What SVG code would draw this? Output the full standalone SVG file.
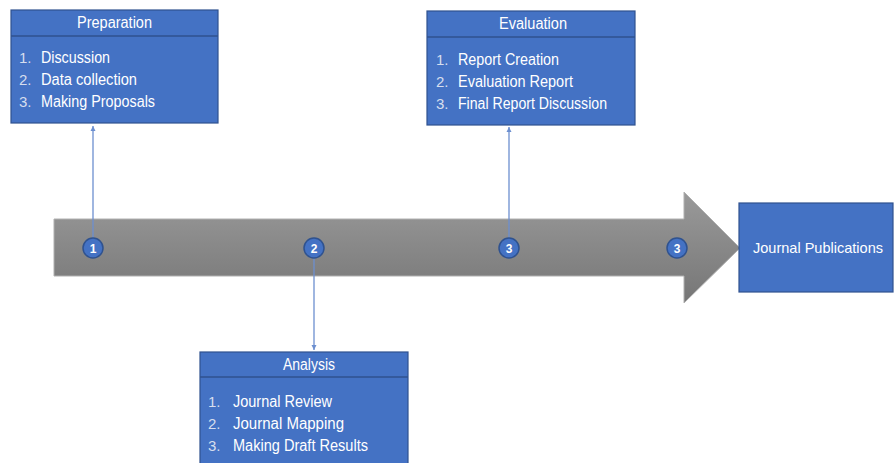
<svg xmlns="http://www.w3.org/2000/svg" width="894" height="463" viewBox="0 0 894 463">
<style>
.box{fill:#4472C4;stroke:#2F528F;stroke-width:1.2}
.sep{stroke:#2F528F;stroke-width:1.5}
text{font-family:"Liberation Sans",Arial,sans-serif;fill:#fff}
.hd{font-size:16px;text-anchor:middle}
.it{font-size:16px}
.num{font-size:15px;fill:#D6DEEE}
.circ{fill:#4472C4;stroke:#2F528F;stroke-width:1.5}
.cn{font-size:12px;font-weight:bold;text-anchor:middle}
.conn{stroke:#6C8FD0;stroke-width:1.3;fill:none}
</style>
<defs>
<linearGradient id="g" x1="0" y1="0" x2="0" y2="1">
<stop offset="0" stop-color="#9A9A9A"/>
<stop offset="1" stop-color="#767676"/>
</linearGradient>
<marker id="ah" markerWidth="6" markerHeight="6" refX="5" refY="3" orient="auto" markerUnits="userSpaceOnUse">
<path d="M0,0.5 L5,3 L0,5.5 Z" fill="#6C8FD0"/>
</marker>
</defs>
<g id="arrow">
<path d="M54,219 H684 V192 L740,248 L684,303 V276 H54 Z" fill="url(#g)" stroke="#B0B0B0" stroke-width="1"/>
</g>
<g id="connectors">
<line class="conn" x1="93" y1="238" x2="93" y2="126" marker-end="url(#ah)"/>
<line class="conn" x1="314" y1="258" x2="314" y2="350" marker-end="url(#ah)"/>
<line class="conn" x1="509" y1="238" x2="509" y2="127" marker-end="url(#ah)"/>
</g>
<g id="preparation">
<rect class="box" x="11" y="10" width="207" height="113"/>
<line class="sep" x1="11" y1="36" x2="218" y2="36"/>
<text class="hd" x="114.5" y="28" textLength="75" lengthAdjust="spacingAndGlyphs">Preparation</text>
<text class="num" x="19" y="63">1.</text><text class="it" x="41" y="63" textLength="69" lengthAdjust="spacingAndGlyphs">Discussion</text>
<text class="num" x="19" y="85">2.</text><text class="it" x="41" y="85" textLength="96" lengthAdjust="spacingAndGlyphs">Data collection</text>
<text class="num" x="19" y="107">3.</text><text class="it" x="41" y="107" textLength="114" lengthAdjust="spacingAndGlyphs">Making Proposals</text>
</g>
<g id="evaluation">
<rect class="box" x="427" y="11" width="208" height="114"/>
<line class="sep" x1="427" y1="37" x2="635" y2="37"/>
<text class="hd" x="533" y="29" textLength="68" lengthAdjust="spacingAndGlyphs">Evaluation</text>
<text class="num" x="436" y="65">1.</text><text class="it" x="458" y="65" textLength="101" lengthAdjust="spacingAndGlyphs">Report Creation</text>
<text class="num" x="436" y="87">2.</text><text class="it" x="458" y="87" textLength="115" lengthAdjust="spacingAndGlyphs">Evaluation Report</text>
<text class="num" x="436" y="109">3.</text><text class="it" x="458" y="109" textLength="149" lengthAdjust="spacingAndGlyphs">Final Report Discussion</text>
</g>
<g id="analysis">
<rect class="box" x="200" y="352" width="208" height="120"/>
<line class="sep" x1="200" y1="377" x2="408" y2="377"/>
<text class="hd" x="309" y="370" textLength="52" lengthAdjust="spacingAndGlyphs">Analysis</text>
<text class="num" x="208" y="407">1.</text><text class="it" x="233" y="407" textLength="99" lengthAdjust="spacingAndGlyphs">Journal Review</text>
<text class="num" x="208" y="429">2.</text><text class="it" x="233" y="429" textLength="111" lengthAdjust="spacingAndGlyphs">Journal Mapping</text>
<text class="num" x="208" y="451">3.</text><text class="it" x="233" y="451" textLength="135" lengthAdjust="spacingAndGlyphs">Making Draft Results</text>
</g>
<g id="journal">
<rect class="box" x="739" y="203" width="154" height="89"/>
<text x="818" y="253" style="font-size:15px;text-anchor:middle" textLength="130" lengthAdjust="spacingAndGlyphs">Journal Publications</text>
</g>
<g id="marker1"><circle class="circ" cx="93" cy="248" r="10"/><text class="cn" x="93" y="252.5">1</text></g>
<g id="marker2"><circle class="circ" cx="314" cy="248" r="10"/><text class="cn" x="314" y="252.5">2</text></g>
<g id="marker3"><circle class="circ" cx="509" cy="248" r="10"/><text class="cn" x="509" y="252.5">3</text></g>
<g id="marker4"><circle class="circ" cx="677" cy="248" r="10"/><text class="cn" x="677" y="252.5">3</text></g>
</svg>
